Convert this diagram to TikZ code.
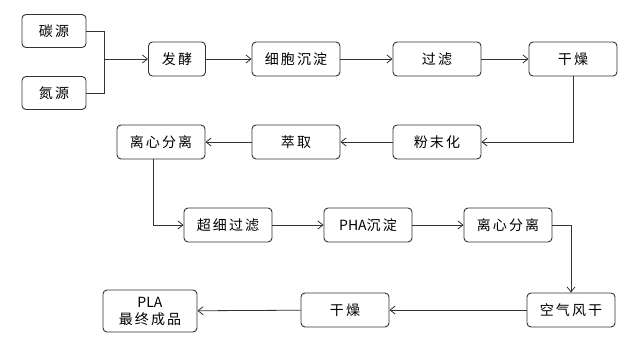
\documentclass[tikz,border=0pt]{standalone}
\usepackage{fontspec}
\setmainfont{Noto Sans CJK SC}[LetterSpace=15]
\newfontfamily\tightfont{Noto Sans CJK SC}
\usetikzlibrary{arrows.meta}
\definecolor{linegray}{HTML}{333333}

\tikzset{
  stepbox/.style={draw=linegray, line width=0.9pt, rounded corners=4pt, fill=white,
    minimum width=88pt, minimum height=34pt, inner sep=0pt, align=center,
    font=\fontsize{14}{16}\selectfont},
  flow/.style={draw=linegray, line width=0.8pt, -{Straight Barb[length=5pt,width=8pt]}},
  link/.style={draw=linegray, line width=0.8pt}
}

\begin{document}
\begin{tikzpicture}[x=1pt, y=-1pt]
  \useasboundingbox (0,0) rectangle (640,344);
  % raw materials
  \node[stepbox, minimum width=64pt, minimum height=33pt] (tan) at (54,31) {碳源};
  \node[stepbox, minimum width=64pt, minimum height=33pt] (dan) at (54,93) {氮源};
  \coordinate (join) at (104,59);
  % first row
  \node[stepbox, minimum width=57pt] (fajiao) at (177,59) {发酵};
  \node[stepbox] (xibao) at (296,59) {细胞沉淀};
  \node[stepbox] (guolv) at (437,59) {过滤};
  \node[stepbox] (ganzaoA) at (573,59) {干燥};
  % second row
  \node[stepbox] (fenmo) at (437,142) {粉末化};
  \node[stepbox] (cuiqu) at (296,142) {萃取};
  \node[stepbox] (lixinA) at (161,142) {离心分离};
  % third row
  \node[stepbox] (chaoxi) at (228,225) {超细过滤};
  \node[stepbox] (pha) at (368,225) {{\tightfont PHA}沉淀};
  \node[stepbox] (lixinB) at (508,225) {离心分离};
  % fourth row
  \node[stepbox] (kongqi) at (571,310) {空气风干};
  \node[stepbox] (ganzaoB) at (345,310) {干燥};
  \node[stepbox, minimum width=94pt, minimum height=42pt, font=\fontsize{14}{17}\selectfont] (pla) at (150,311) {{\tightfont PLA}\\最终成品};

  \draw[link] (tan.east) -| (join);
  \draw[link] (dan.east) -| (join);
  \draw[flow] (join) -- (fajiao.west);
  \draw[flow] (fajiao) -- (xibao);
  \draw[flow] (xibao) -- (guolv);
  \draw[flow] (guolv) -- (ganzaoA);
  \draw[flow] (ganzaoA.south) |- (fenmo.east);
  \draw[flow] (fenmo) -- (cuiqu);
  \draw[flow] (cuiqu) -- (lixinA);
  \draw[flow] ([xshift=-8pt]lixinA.south) |- (chaoxi.west);
  \draw[flow] (chaoxi) -- (pha);
  \draw[flow] (pha) -- (lixinB);
  \draw[flow] (lixinB.east) -| (kongqi.north);
  \draw[flow] (kongqi) -- (ganzaoB);
  \draw[flow] (ganzaoB) -- (pla);
\end{tikzpicture}
\end{document}
